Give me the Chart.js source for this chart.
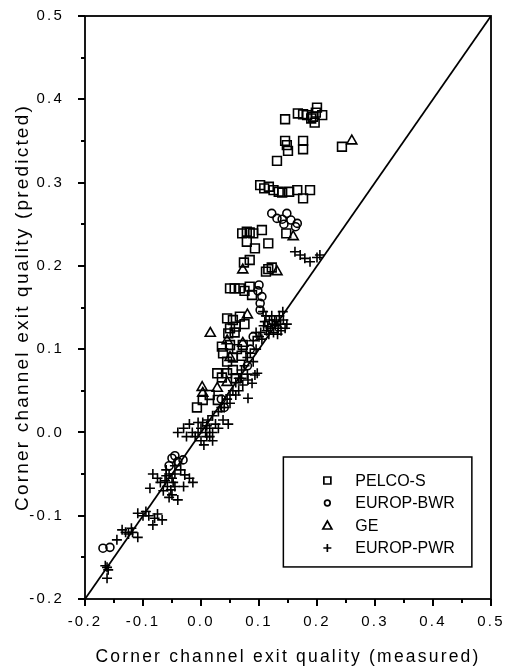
<!DOCTYPE html>
<html lang="en">
<head>
  <meta charset="UTF-8" />
  <title>Corner channel exit quality</title>
  <script src="https://cdn.jsdelivr.net/npm/chart.js"></script>
  <style>
    body { margin: 0; background: #fff; }
    #wrap { width: 505px; height: 671px; }
  </style>
</head>
<body>
  <div id="wrap"><canvas id="scatter"></canvas></div>

  <script>
    // axis ticks
    const xTicks = [-0.2, -0.1, 0.0, 0.1, 0.2, 0.3, 0.4, 0.5];
    const yTicks = [-0.2, -0.1, 0.0, 0.1, 0.2, 0.3, 0.4, 0.5];
    const minorTicks = [-0.15, -0.05, 0.05, 0.15, 0.25, 0.35, 0.45];
    const seriesNames = ["PELCO-S", "EUROP-BWR", "GE", "EUROP-PWR"];

    // [measured, predicted]
    const pelcoS = [
      [0.145, 0.376], [0.167, 0.383], [0.176, 0.382], [0.183, 0.381], [0.19, 0.377], [0.193, 0.379],
      [0.198, 0.384], [0.2, 0.39], [0.209, 0.381], [0.196, 0.372],
      [0.145, 0.35], [0.15, 0.338], [0.176, 0.35], [0.176, 0.34], [0.131, 0.326], [0.243, 0.343], [0.148, 0.345],
      [0.102, 0.297], [0.109, 0.293], [0.117, 0.295], [0.125, 0.291], [0.134, 0.289], [0.14, 0.288],
      [0.152, 0.289], [0.166, 0.291], [0.176, 0.281], [0.188, 0.291],
      [0.147, 0.239],
      [0.071, 0.239], [0.079, 0.241], [0.084, 0.24], [0.09, 0.239], [0.105, 0.243], [0.079, 0.229],
      [0.093, 0.221], [0.116, 0.227], [0.084, 0.207], [0.074, 0.204],
      [0.116, 0.196], [0.112, 0.193], [0.122, 0.198],
      [0.05, 0.173], [0.058, 0.173], [0.067, 0.173], [0.084, 0.175], [0.088, 0.165], [0.075, 0.17],
      [0.045, 0.137], [0.055, 0.135], [0.067, 0.139], [0.05, 0.125], [0.06, 0.127], [0.075, 0.13],
      [0.047, 0.119], [0.058, 0.12],
      [0.036, 0.103], [0.05, 0.105], [0.062, 0.1], [0.072, 0.105], [0.038, 0.095], [0.055, 0.09],
      [0.045, 0.085], [0.07, 0.092],
      [0.028, 0.071], [0.045, 0.071], [0.036, 0.066], [0.055, 0.075], [0.06, 0.065],
      [0.003, 0.039], [0.029, 0.039], [-0.007, 0.03], [0.015, 0.045]
    ];
    const europBwr = [
      [0.122, 0.263], [0.131, 0.257], [0.14, 0.256], [0.148, 0.263], [0.143, 0.25], [0.166, 0.251],
      [0.163, 0.247], [0.155, 0.255],
      [0.1, 0.177], [0.105, 0.163], [0.102, 0.155], [0.098, 0.17], [0.102, 0.147],
      [0.09, 0.115], [0.085, 0.1], [0.08, 0.08], [0.035, 0.04], [0.04, 0.03],
      [-0.05, -0.031], [-0.045, -0.028], [-0.04, -0.035], [-0.031, -0.033], [-0.055, -0.04],
      [-0.169, -0.139], [-0.157, -0.138]
    ];
    const ge = [
      [0.26, 0.35], [0.159, 0.235], [0.072, 0.195], [0.131, 0.193], [0.016, 0.119], [0.08, 0.141],
      [0.072, 0.107], [0.045, 0.11], [0.002, 0.054], [0.028, 0.053], [0.003, 0.047], [0.045, 0.06], [0.05, 0.09]
    ];
    const europPwr = [
      [0.162, 0.217], [0.171, 0.213], [0.179, 0.209], [0.188, 0.205], [0.2, 0.21], [0.205, 0.213],
      [0.107, 0.145], [0.112, 0.14], [0.118, 0.135], [0.123, 0.13], [0.128, 0.128], [0.133, 0.125],
      [0.138, 0.122], [0.141, 0.145], [0.12, 0.125], [0.113, 0.122], [0.125, 0.12], [0.13, 0.133],
      [0.145, 0.125], [0.148, 0.13], [0.108, 0.128], [0.117, 0.118], [0.135, 0.14], [0.103, 0.12],
      [0.11, 0.133], [0.115, 0.127], [0.122, 0.14], [0.127, 0.135], [0.132, 0.118], [0.137, 0.13],
      [0.142, 0.135], [0.1, 0.115], [0.105, 0.112], [0.095, 0.12],
      [0.09, 0.11], [0.095, 0.1], [0.085, 0.095], [0.08, 0.09], [0.09, 0.085], [0.075, 0.08], [0.08, 0.07],
      [0.07, 0.075], [0.065, 0.065], [0.06, 0.06], [0.097, 0.071], [0.081, 0.063], [0.072, 0.057],
      [0.088, 0.059], [0.081, 0.041], [0.093, 0.069], [0.055, 0.05], [0.05, 0.045], [0.045, 0.04],
      [0.04, 0.03], [0.06, 0.045], [0.065, 0.05], [0.07, 0.065], [0.05, 0.035],
      [0.003, 0.012], [0.012, 0.015], [0.02, 0.02], [0.038, 0.015], [0.047, 0.01], [0.03, 0.025],
      [0.025, 0.01], [0.015, 0.005], [0.008, 0.0], [0.0, 0.005], [0.035, 0.03], [0.02, 0.0], [0.01, -0.005],
      [-0.005, 0.0],
      [-0.04, 0.0], [-0.03, 0.005], [-0.02, 0.01], [-0.015, 0.0], [-0.01, -0.005], [0.0, -0.01],
      [-0.025, -0.005], [0.005, -0.015], [0.01, 0.008], [0.03, 0.005], [0.02, -0.01], [-0.005, 0.012],
      [0.015, -0.005],
      [-0.06, -0.045], [-0.055, -0.05], [-0.05, -0.055], [-0.048, -0.06], [-0.058, -0.065], [-0.052, -0.069],
      [-0.045, -0.05], [-0.062, -0.058], [-0.04, -0.081], [-0.028, -0.051], [-0.035, -0.045], [-0.045, -0.04],
      [-0.07, -0.06], [-0.088, -0.067], [-0.05, -0.075], [-0.083, -0.05], [-0.075, -0.055], [-0.02, -0.055],
      [-0.014, -0.06], [-0.03, -0.065], [-0.065, -0.07], [-0.055, -0.078], [-0.06, -0.052], [-0.045, -0.065],
      [-0.109, -0.097], [-0.1, -0.1], [-0.09, -0.1], [-0.08, -0.103], [-0.067, -0.105], [-0.083, -0.111],
      [-0.095, -0.095], [-0.075, -0.098],
      [-0.136, -0.117], [-0.13, -0.12], [-0.125, -0.122], [-0.118, -0.12], [-0.109, -0.126], [-0.145, -0.129],
      [-0.12, -0.115],
      [-0.162, -0.162], [-0.16, -0.165], [-0.162, -0.175], [-0.165, -0.16]
    ];
    // y = x reference line
    const diagonal = [[-0.2, -0.2], [0.5, 0.5]];

    const toXY = arr => arr.map(p => ({ x: p[0], y: p[1] }));
    const FONT = "'Liberation Sans', Arial, sans-serif";
    const markers = [
      { style: 'rect', radius: 6.2 },
      { style: 'circle', radius: 4 },
      { style: 'triangle', radius: 5.8 },
      { style: 'cross', radius: 5 }
    ];

    // the original axis text is widely spaced
    const spacing = {
      id: 'spacing',
      beforeLayout(chart) { chart.ctx.letterSpacing = '2.2px'; },
      beforeDraw(chart) { chart.ctx.letterSpacing = '2.2px'; }
    };

    // frame, all tick marks and the legend box
    const framePlugin = {
      id: 'frame',
      afterDraw(chart) {
        const ctx = chart.ctx;
        const a = chart.chartArea;
        const xs = chart.scales.x, ys = chart.scales.y;
        ctx.save();
        ctx.letterSpacing = '0px';
        ctx.strokeStyle = '#000';
        ctx.lineWidth = 1.8;
        ctx.strokeRect(a.left, a.top, a.right - a.left, a.bottom - a.top);

        // tick marks as thin filled bars
        ctx.fillStyle = '#000';
        xTicks.concat(minorTicks).forEach(v => {
          const len = minorTicks.includes(v) ? 4 : 7;
          const px = Math.round(xs.getPixelForValue(v));
          const py = Math.round(ys.getPixelForValue(v));
          ctx.fillRect(px - 1, a.bottom, 2, len);
          ctx.fillRect(a.left - len, py - 1, len, 2);
        });

        // legend
        const lx = xs.getPixelForValue(0.142), rx = xs.getPixelForValue(0.467);
        const ty = ys.getPixelForValue(-0.0295), by = ys.getPixelForValue(-0.1615);
        ctx.lineWidth = 1.5;
        ctx.strokeRect(lx, ty, rx - lx, by - ty);
        ctx.font = '16px ' + FONT;
        ctx.textBaseline = 'middle';
        seriesNames.forEach((name, i) => {
          const cy = ty + 23.5 + i * 22.5;
          const mx = lx + 44;
          ctx.lineWidth = 1.7;
          ctx.beginPath();
          if (i === 0) {
            ctx.rect(mx - 3.5, cy - 3.5, 7, 7);
          } else if (i === 1) {
            ctx.arc(mx, cy, 2.8, 0, Math.PI * 2);
          } else if (i === 2) {
            ctx.moveTo(mx, cy - 4.5);
            ctx.lineTo(mx + 4.5, cy + 3.5);
            ctx.lineTo(mx - 4.5, cy + 3.5);
            ctx.closePath();
          } else {
            ctx.moveTo(mx - 4, cy); ctx.lineTo(mx + 4, cy);
            ctx.moveTo(mx, cy - 4); ctx.lineTo(mx, cy + 4);
          }
          ctx.stroke();
          ctx.fillText(name, lx + 72, cy + 1);
        });
        ctx.restore();
      }
    };

    const pointSets = [pelcoS, europBwr, ge, europPwr].map((arr, i) => ({
      label: seriesNames[i],
      data: toXY(arr),
      pointStyle: markers[i].style,
      pointRadius: markers[i].radius,
      pointBorderColor: '#000',
      pointBackgroundColor: 'rgba(0,0,0,0)',
      pointBorderWidth: 1.6,
      showLine: false
    }));

    new Chart(document.getElementById('scatter'), {
      type: 'scatter',
      data: {
        datasets: [{
          label: 'y = x',
          data: toXY(diagonal),
          showLine: true,
          borderColor: '#000',
          borderWidth: 1.8,
          pointRadius: 0
        }].concat(pointSets)
      },
      options: {
        responsive: true,
        maintainAspectRatio: false,
        animation: false,
        events: [],
        layout: { padding: { top: 16, right: 14, left: 0, bottom: 0 } },
        plugins: { legend: { display: false }, tooltip: { enabled: false } },
        scales: {
          x: {
            type: 'linear',
            min: -0.2, max: 0.5,
            afterBuildTicks: s => { s.ticks = xTicks.map(v => ({ value: v })); },
            afterFit: s => { s.height = 72; s.paddingLeft = 0; s.paddingRight = 0; },
            grid: { display: false },
            border: { display: false },
            ticks: {
              padding: 6,
              color: '#000',
              autoSkip: false,
              maxRotation: 0,
              minRotation: 0,
              font: { family: FONT, size: 15 },
              callback: v => v.toFixed(1)
            },
            title: {
              display: true,
              text: 'Corner channel exit quality (measured)',
              color: '#000',
              font: { family: FONT, size: 17.5 },
              padding: { top: 4, bottom: 3 }
            }
          },
          y: {
            type: 'linear',
            min: -0.2, max: 0.5,
            afterBuildTicks: s => { s.ticks = yTicks.map(v => ({ value: v })); },
            afterFit: s => { s.width = 85; s.paddingTop = 0; s.paddingBottom = 0; },
            grid: { display: false },
            border: { display: false },
            ticks: {
              padding: 13,
              color: '#000',
              autoSkip: false,
              font: { family: FONT, size: 15 },
              callback: v => v.toFixed(1)
            },
            title: {
              display: true,
              text: 'Corner channel exit quality (predicted)',
              color: '#000',
              font: { family: FONT, size: 19 },
              padding: { top: 11, bottom: 4 }
            }
          }
        }
      },
      plugins: [spacing, framePlugin]
    });
  </script>
</body>
</html>
